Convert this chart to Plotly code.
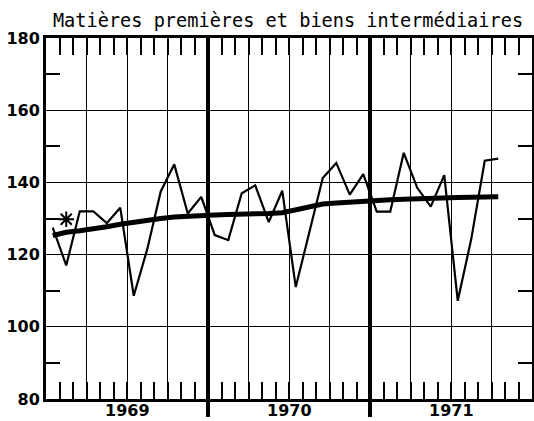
import plotly.graph_objects as go

# Monthly data, Jan 1969 .. Oct 1971 (index values)
years = ["1969", "1970", "1971"]
monthly = [
    127.5, 117.0, 132.0, 132.0, 128.7, 133.0, 108.6, 121.5, 137.5, 145.0, 131.4, 136.0,
    125.4, 124.0, 137.0, 139.2, 129.0, 137.7, 111.0, 126.3, 141.2, 145.4, 136.6, 142.3,
    131.9, 131.9, 148.2, 138.5, 133.3, 142.0, 107.2, 124.3, 146.0, 146.6,
]
trend = [
    125.3, 126.2, 126.6, 127.0, 127.7, 128.4, 129.0, 129.5, 130.0, 130.4, 130.7, 131.0,
    131.0, 131.1, 131.1, 131.2, 131.4, 131.6, 132.4, 133.3, 134.0, 134.3, 134.6, 134.8,
    135.0, 135.2, 135.3, 135.5, 135.6, 135.7, 135.8, 135.9, 136.0, 136.0,
]
star_month = [1]      # Feb 1969
star_value = [129.8]
y_ticks = [80, 100, 120, 140, 160, 180]
y_minor = [90, 110, 130, 150, 170]

n_months = 36
x_pos = [i + 0.5 for i in range(len(monthly))]
month_bounds = list(range(0, n_months + 1))
year_centers = [6, 18, 30]
quarter_bounds = list(range(0, n_months + 1, 3))
year_bounds = [12, 24]

fig = go.Figure()
fig.add_trace(go.Scatter(x=x_pos, y=trend, mode="lines",
                         line=dict(color="black", width=5), showlegend=False, hoverinfo="skip"))
fig.add_trace(go.Scatter(x=x_pos, y=monthly, mode="lines",
                         line=dict(color="black", width=2.2), showlegend=False, hoverinfo="skip"))
fig.add_trace(go.Scatter(x=[x_pos[i] for i in star_month], y=star_value, mode="markers",
                         marker=dict(symbol="asterisk-open", size=13, color="black",
                                     line=dict(color="black", width=2)),
                         showlegend=False, hoverinfo="skip"))
# helper empty traces to activate overlay axes
for xa, ya in [("x2", "y"), ("x3", "y"), ("x4", "y"), ("x", "y2")]:
    fig.add_trace(go.Scatter(x=[None], y=[None], xaxis=xa, yaxis=ya, showlegend=False,
                             hoverinfo="skip"))

for c, yr in zip(year_centers, years):
    fig.add_annotation(x=c, y=0, xref="x", yref="paper", text=yr, showarrow=False,
                       xanchor="center", yanchor="middle", yshift=-11,
                       font=dict(family="DejaVu Sans", size=16, color="black", weight="bold"))

rng = [0, n_months]
fig.update_layout(
    width=534, height=421,
    margin=dict(l=46, r=2, t=38, b=22),
    paper_bgcolor="white", plot_bgcolor="white",
    title=dict(text="Matières premières et biens intermédiaires",
               font=dict(family="DejaVu Sans Mono", size=18.6, color="black"),
               x=288 / 534, xanchor="center", y=1 - 20 / 421, yanchor="middle",
               xref="container", yref="container"),
    xaxis=dict(range=rng, tickmode="array", tickvals=month_bounds, showticklabels=False,
               ticks="inside", ticklen=17, tickwidth=1.5, tickcolor="black", automargin=False,
               showgrid=False, zeroline=False, showline=True, linecolor="black", linewidth=3),
    xaxis2=dict(range=rng, overlaying="x", side="top", tickmode="array", tickvals=month_bounds,
                ticks="inside", ticklen=17, tickwidth=1.5, tickcolor="black", automargin=False,
                showticklabels=False, showgrid=False, zeroline=False,
                showline=True, linecolor="black", linewidth=3),
    xaxis3=dict(range=rng, overlaying="x", tickmode="array", tickvals=quarter_bounds,
                showticklabels=False, ticks="", showgrid=True, gridcolor="black", gridwidth=1.2,
                zeroline=False, showline=False, automargin=False),
    xaxis4=dict(range=rng, overlaying="x", side="bottom", tickmode="array", tickvals=year_bounds,
                showticklabels=False, ticks="outside", ticklen=17, tickwidth=3.5, tickcolor="black",
                showgrid=True, gridcolor="black", gridwidth=3.5, zeroline=False, showline=False,
                automargin=False),
    yaxis=dict(range=[80, 180], tickmode="array", tickvals=y_ticks, ticks="", automargin=False,
               showgrid=True, gridcolor="black", gridwidth=1.2, zeroline=False,
               showline=True, linecolor="black", linewidth=3,
               minor=dict(tickvals=y_minor, ticks="inside", ticklen=14, tickwidth=1.5,
                          tickcolor="black", showgrid=False),
               tickfont=dict(family="DejaVu Sans", size=16, color="black", weight="bold")),
    yaxis2=dict(range=[80, 180], overlaying="y", side="right", tickmode="array", tickvals=y_minor,
                ticks="inside", ticklen=14, tickwidth=1.5, tickcolor="black", automargin=False,
                showticklabels=False, showgrid=False, zeroline=False,
                showline=True, linecolor="black", linewidth=3),
)

fig.write_html("out.html", config={"displayModeBar": False},
               post_script="document.body.style.margin='0';")
